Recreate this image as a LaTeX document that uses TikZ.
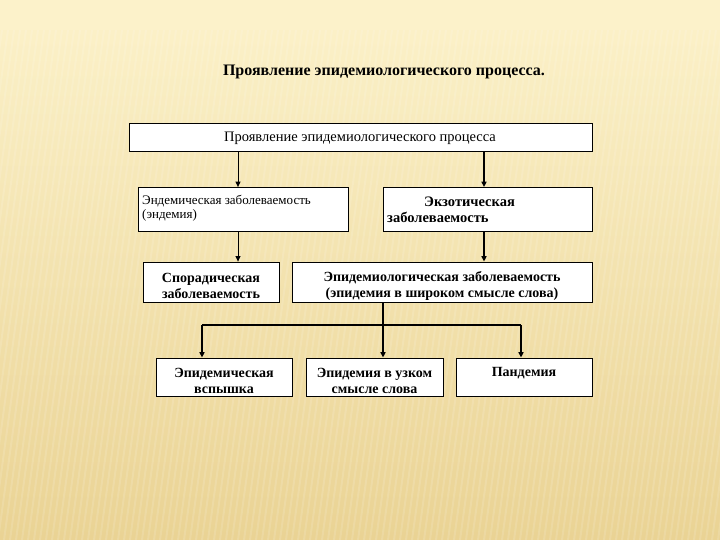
\documentclass[tikz,border=0pt]{standalone}
\usepackage{fontspec}
\setmainfont{Liberation Serif}
\usetikzlibrary{arrows.meta}
\definecolor{bgtop}{HTML}{FCF2CA}
\definecolor{bgbot}{HTML}{EAD394}
\tikzset{
  boxnode/.style={draw=black, line width=0.8pt, fill=white, inner sep=0pt},
  txt/.style={inner sep=0pt, font=\fontsize{14}{16.5}\selectfont\bfseries, align=center},
  arr/.style={draw=black, line width=1pt, -{Triangle[length=5.5pt,width=5pt]}},
  arrthick/.style={arr, line width=1.6pt},
  plain/.style={draw=black, line width=1.6pt}
}
\begin{document}
\begin{tikzpicture}[x=1pt,y=-1pt]
\useasboundingbox (0,0) rectangle (720,540);
\shade[top color=bgtop, bottom color=bgbot] (0,0) rectangle (720,540);
\fill[bgtop] (0,0) rectangle (720,30);
\begin{scope}
\clip (0,30) rectangle (720,540);
\foreach \i in {-80,-74,...,720}{
  \draw[white, opacity=0.13, line width=2pt] (\i,540) -- (\i+70,30);
}
\end{scope}

\node[font=\fontsize{16}{18}\selectfont\bfseries] (title) at (384,72) {Проявление эпидемиологического процесса.};

% boxes
\node[boxnode, minimum width=463pt, minimum height=28pt] (top) at (360.5,137) {};
\node[boxnode, minimum width=210pt, minimum height=44pt] (A) at (243,209.5) {};
\node[boxnode, minimum width=209pt, minimum height=44pt] (B) at (487.5,209.5) {};
\node[boxnode, minimum width=136pt, minimum height=40pt] (C) at (211,282) {};
\node[boxnode, minimum width=300pt, minimum height=40pt] (D) at (442,282) {};
\node[boxnode, minimum width=136pt, minimum height=38pt] (E) at (224,377) {};
\node[boxnode, minimum width=137pt, minimum height=38pt] (F) at (374.5,377) {};
\node[boxnode, minimum width=136pt, minimum height=38pt] (G) at (524,377) {};

% texts
\node[txt, font=\fontsize{14.5}{17}\selectfont] (ttop) at (360,138) {Проявление эпидемиологического процесса};
\node[txt, font=\fontsize{13}{14.5}\selectfont, align=left, anchor=west] (tA) at (142,208) {Эндемическая заболеваемость\\(эндемия)};
\node[txt, font=\fontsize{14.5}{16}\selectfont\bfseries, align=left, anchor=west] (tB) at (387,210) {\hspace*{37pt}Экзотическая\\заболеваемость};
\node[txt] (tC) at (211,286) {Спорадическая\\заболеваемость};
\node[txt] (tD) at (442,286) {Эпидемиологическая заболеваемость\\(эпидемия в широком смысле слова)};
\node[txt] (tE) at (224,381) {Эпидемическая\\вспышка};
\node[txt] (tF) at (374.5,381) {Эпидемия в узком\\смысле слова};
\node[txt] (tG) at (524,373) {Пандемия};

% connectors
\draw[arr] (top.south -| 238,0) -- (A.north -| 238,0);
\draw[arrthick] (top.south -| 484,0) -- (B.north -| 484,0);
\draw[arr] (A.south -| 238,0) -- (C.north -| 238,0);
\draw[arrthick] (B.south -| 484,0) -- (D.north -| 484,0);

\coordinate (split) at (383,325);
\coordinate (hl) at (202,325);
\coordinate (hr) at (521,325);
\draw[plain] (D.south -| split) -- (split);
\draw[plain] (hl) -- (hr);
\draw[arrthick] (hl) -- (E.north -| hl);
\draw[arrthick] (split) -- (F.north -| split);
\draw[arrthick] (hr) -- (G.north -| hr);
\end{tikzpicture}
\end{document}
